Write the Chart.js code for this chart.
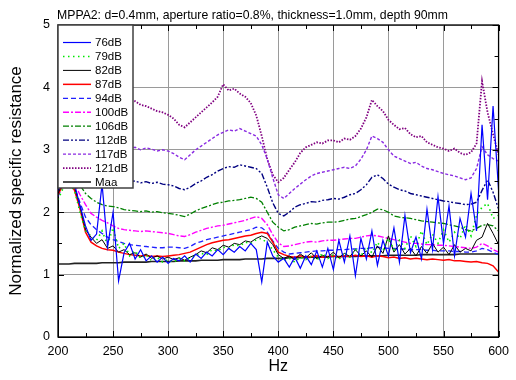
<!DOCTYPE html>
<html>
<head>
<meta charset="utf-8">
<script src="https://cdn.jsdelivr.net/npm/chart.js@4.4.1/dist/chart.umd.min.js"></script>
<style>
  html, body { margin: 0; padding: 0; background: #fff; }
</style>
</head>
<body>
<canvas id="chart" width="516" height="380"></canvas>
<script>
// Frequency (Hz), one sample every 5 Hz
const freqHz = [
  200, 205, 210, 215, 220, 225, 230, 235, 240, 245,
  250, 255, 260, 265, 270, 275, 280, 285, 290, 295,
  300, 305, 310, 315, 320, 325, 330, 335, 340, 345,
  350, 355, 360, 365, 370, 375, 380, 385, 390, 395,
  400, 405, 410, 415, 420, 425, 430, 435, 440, 445,
  450, 455, 460, 465, 470, 475, 480, 485, 490, 495,
  500, 505, 510, 515, 520, 525, 530, 535, 540, 545,
  550, 555, 560, 565, 570, 575, 580, 585, 590, 595,
  600
];

const seriesNames = ["76dB", "79dB", "82dB", "87dB", "94dB", "100dB", "106dB", "112dB", "117dB", "121dB", "Maa"];

// Normalized specific resistance
const db76 = [
  2.35, 2.55, 2.60, 2.45, 2.10, 1.78, 1.55, 1.65, 2.45, 1.45,
  2.00, 0.90, 1.35, 1.50, 1.25, 1.40, 1.22, 1.30, 1.20, 1.28,
  1.18, 1.26, 1.22, 1.30, 1.20, 1.33, 1.26, 1.36, 1.30, 1.40,
  1.32, 1.42, 1.36, 1.45, 1.38, 1.50, 1.40, 0.88, 1.52, 1.30,
  1.20, 1.26, 1.12, 1.28, 1.10, 1.30, 1.16, 1.38, 1.12, 1.42,
  1.08, 1.55, 1.20, 1.62, 0.98, 1.58, 1.25, 1.70, 1.15, 1.55,
  1.30, 1.75, 1.20, 1.95, 1.35, 1.60, 1.25, 2.05, 1.40, 2.25,
  1.50, 2.10, 1.30, 1.90, 1.60, 2.30, 1.70, 3.40, 2.20, 3.70,
  2.35
];
const db79 = [
  2.20, 2.40, 2.45, 2.35, 2.00, 1.70, 1.62, 1.55, 1.70, 1.48,
  1.75, 1.42, 1.50, 1.30, 1.38, 1.26, 1.32, 1.22, 1.28, 1.20,
  1.24, 1.20, 1.26, 1.22, 1.27, 1.30, 1.34, 1.32, 1.40, 1.38,
  1.44, 1.42, 1.48, 1.46, 1.52, 1.50, 1.56, 1.58, 1.50, 1.40,
  1.28, 1.22, 1.26, 1.20, 1.28, 1.24, 1.30, 1.23, 1.34, 1.26,
  1.32, 1.24, 1.36, 1.28, 1.40, 1.30, 1.44, 1.35, 1.52, 1.38,
  1.58, 1.40, 1.55, 1.42, 1.62, 1.45, 1.70, 1.48, 1.65, 1.50,
  1.72, 1.52, 1.68, 1.58, 1.80, 1.62, 1.95, 2.08, 2.14, 1.90,
  1.95
];
const db82 = [
  2.30, 2.50, 2.52, 2.40, 2.10, 1.72, 1.60, 1.50, 1.56, 1.42,
  1.46, 1.36, 1.40, 1.32, 1.35, 1.28, 1.33, 1.26, 1.30, 1.25,
  1.28, 1.24, 1.27, 1.23, 1.28, 1.32, 1.38, 1.35, 1.43, 1.40,
  1.47, 1.44, 1.50, 1.48, 1.54, 1.52, 1.58, 1.62, 1.58, 1.48,
  1.32, 1.26, 1.30, 1.24, 1.33, 1.27, 1.35, 1.25, 1.31, 1.28,
  1.36, 1.27, 1.34, 1.29, 1.40, 1.30, 1.38, 1.28, 1.46, 1.34,
  1.62, 1.36, 1.48, 1.33, 1.42, 1.30, 1.45, 1.34, 1.50, 1.36,
  1.44, 1.32, 1.48, 1.36, 1.42, 1.38, 1.55, 1.60, 1.82, 1.66,
  1.48
];
const db87 = [
  2.28, 2.45, 2.50, 2.35, 2.05, 1.68, 1.52, 1.46, 1.42, 1.40,
  1.39, 1.36, 1.34, 1.32, 1.31, 1.30, 1.31, 1.29, 1.30, 1.29,
  1.30, 1.31, 1.32, 1.34, 1.36, 1.40, 1.44, 1.48, 1.51, 1.53,
  1.55, 1.56, 1.58, 1.60, 1.62, 1.63, 1.66, 1.68, 1.66, 1.52,
  1.36, 1.32, 1.29, 1.28, 1.30, 1.28, 1.29, 1.30, 1.28, 1.29,
  1.30, 1.28, 1.30, 1.29, 1.31, 1.29, 1.30, 1.28, 1.30, 1.29,
  1.27, 1.28, 1.26, 1.27, 1.25, 1.26, 1.25, 1.24, 1.25, 1.24,
  1.23, 1.24, 1.22, 1.22, 1.21, 1.20, 1.21, 1.19, 1.18, 1.14,
  1.04
];
const db94 = [
  2.25, 2.45, 2.50, 2.40, 2.15, 1.92, 1.80, 1.72, 1.66, 1.60,
  1.56, 1.53, 1.50, 1.48, 1.47, 1.46, 1.45, 1.44, 1.43, 1.43,
  1.44, 1.44, 1.43, 1.42, 1.45, 1.50, 1.53, 1.56, 1.58, 1.60,
  1.62, 1.64, 1.66, 1.68, 1.70, 1.72, 1.76, 1.75, 1.68, 1.54,
  1.42, 1.36, 1.33, 1.34, 1.35, 1.36, 1.37, 1.38, 1.38, 1.39,
  1.39, 1.40, 1.40, 1.41, 1.41, 1.42, 1.42, 1.43, 1.44, 1.43,
  1.42, 1.42, 1.41, 1.41, 1.40, 1.40, 1.40, 1.39, 1.39, 1.38,
  1.38, 1.38, 1.37, 1.37, 1.36, 1.36, 1.38, 1.42, 1.40, 1.36,
  1.32
];
const db100 = [
  2.30, 2.50, 2.55, 2.45, 2.28, 2.12, 1.98, 1.92, 1.87, 1.83,
  1.78, 1.74, 1.72, 1.71, 1.70, 1.69, 1.70, 1.69, 1.68, 1.67,
  1.66, 1.64, 1.62, 1.61, 1.64, 1.68, 1.71, 1.74, 1.76, 1.78,
  1.79, 1.81, 1.83, 1.85, 1.87, 1.90, 1.93, 1.90, 1.80, 1.64,
  1.51, 1.45, 1.46, 1.48, 1.50, 1.52, 1.53, 1.52, 1.54, 1.55,
  1.55, 1.56, 1.57, 1.58, 1.58, 1.60, 1.62, 1.63, 1.62, 1.60,
  1.58, 1.56, 1.54, 1.52, 1.50, 1.50, 1.49, 1.48, 1.48, 1.47,
  1.47, 1.46, 1.45, 1.44, 1.43, 1.42, 1.44, 1.50, 1.46, 1.40,
  1.36
];
const db106 = [
  2.35, 2.55, 2.60, 2.52, 2.43, 2.30, 2.22, 2.16, 2.12, 2.10,
  2.09, 2.07, 2.04, 2.03, 2.02, 2.01, 2.02, 2.00, 2.01, 1.99,
  1.98, 1.97, 1.95, 1.93, 1.97, 2.02, 2.06, 2.09, 2.12, 2.15,
  2.16, 2.18, 2.19, 2.20, 2.22, 2.24, 2.22, 2.16, 2.00, 1.84,
  1.76, 1.70, 1.72, 1.76, 1.78, 1.80, 1.82, 1.81, 1.83, 1.84,
  1.84, 1.85, 1.87, 1.89, 1.90, 1.93, 1.96, 2.00, 2.05, 2.04,
  2.00, 1.94, 1.92, 1.91, 1.90, 1.88, 1.86, 1.85, 1.84, 1.83,
  1.82, 1.80, 1.78, 1.76, 1.72, 1.70, 1.74, 1.79, 1.80, 1.78,
  1.70
];
const db112 = [
  2.45, 2.60, 2.65, 2.62, 2.58, 2.55, 2.52, 2.54, 2.50, 2.52,
  2.50, 2.48, 2.51, 2.49, 2.50, 2.47, 2.49, 2.46, 2.48, 2.45,
  2.44, 2.42, 2.38, 2.36, 2.40, 2.46, 2.50, 2.56, 2.60, 2.66,
  2.70, 2.73, 2.72, 2.76, 2.74, 2.72, 2.70, 2.62, 2.40, 2.15,
  1.98, 1.94, 2.00, 2.08, 2.12, 2.14, 2.17, 2.16, 2.19, 2.20,
  2.22, 2.21, 2.24, 2.28, 2.30, 2.36, 2.44, 2.56, 2.60, 2.54,
  2.45, 2.40, 2.36, 2.34, 2.30, 2.28, 2.26, 2.24, 2.22, 2.20,
  2.18, 2.17, 2.15, 2.14, 2.12, 2.13, 2.16, 2.35, 2.52, 2.32,
  2.05
];
const db117 = [
  2.70, 2.90, 3.00, 3.05, 3.08, 3.10, 3.06, 3.08, 3.05, 3.07,
  3.05, 3.03, 3.06, 3.02, 3.04, 3.00, 3.03, 3.01, 2.98, 3.00,
  2.98, 2.94, 2.88, 2.84, 2.92, 3.00, 3.06, 3.12, 3.18, 3.24,
  3.28, 3.32, 3.30, 3.34, 3.30, 3.26, 3.22, 3.08, 2.85, 2.55,
  2.28, 2.22, 2.30, 2.38, 2.45, 2.52, 2.58, 2.62, 2.64, 2.66,
  2.68, 2.70, 2.72, 2.70, 2.74, 2.85, 3.00, 3.22, 3.18, 3.12,
  3.00, 2.90, 2.86, 2.82, 2.78, 2.80, 2.74, 2.70, 2.68, 2.65,
  2.62, 2.60, 2.58, 2.55, 2.52, 2.55, 2.70, 3.05, 2.92, 2.86,
  2.82
];
const db121 = [
  3.30, 3.55, 3.70, 3.78, 3.82, 3.85, 3.83, 3.86, 3.80, 3.84,
  3.82, 3.78, 3.80, 3.76, 3.78, 3.72, 3.70, 3.66, 3.62, 3.60,
  3.56, 3.50, 3.40, 3.36, 3.44, 3.52, 3.60, 3.68, 3.76, 3.85,
  4.05, 3.95, 3.98, 3.90, 3.85, 3.75, 3.55, 3.22, 2.85, 2.60,
  2.48, 2.55, 2.68, 2.80, 2.95, 3.04, 3.08, 3.12, 3.10, 3.15,
  3.15, 3.12, 3.18, 3.16, 3.22, 3.34, 3.52, 3.80, 3.70, 3.62,
  3.48, 3.40, 3.33, 3.35, 3.25, 3.20, 3.22, 3.12, 3.08, 3.04,
  3.02, 2.98, 3.02, 2.95, 2.92, 2.96, 3.10, 4.10, 3.60, 3.25,
  2.92
];
const maa = [
  1.17, 1.17, 1.17, 1.18, 1.18, 1.18, 1.18, 1.18, 1.19, 1.19,
  1.19, 1.19, 1.20, 1.20, 1.20, 1.20, 1.20, 1.21, 1.21, 1.21,
  1.21, 1.21, 1.22, 1.22, 1.22, 1.22, 1.23, 1.23, 1.23, 1.23,
  1.24, 1.24, 1.24, 1.24, 1.25, 1.25, 1.25, 1.25, 1.26, 1.26,
  1.26, 1.26, 1.27, 1.27, 1.27, 1.27, 1.28, 1.28, 1.28, 1.28,
  1.29, 1.29, 1.29, 1.29, 1.29, 1.30, 1.30, 1.30, 1.30, 1.30,
  1.31, 1.31, 1.31, 1.31, 1.31, 1.31, 1.32, 1.32, 1.32, 1.32,
  1.32, 1.32, 1.32, 1.33, 1.33, 1.33, 1.33, 1.33, 1.33, 1.33,
  1.33
];

const xTickLabels = [200, 250, 300, 350, 400, 450, 500, 550, 600];
const yTickLabels = [0, 1, 2, 3, 4, 5];

const allSeries = [db76, db79, db82, db87, db94, db100, db106, db112, db117, db121, maa];

// line styles, same order as seriesNames
const styles = [
  { color: "#0000ff", width: 1.2, dash: [] },
  { color: "#00e800", width: 1.6, dash: [1.5, 3.5] },
  { color: "#000000", width: 1, dash: [] },
  { color: "#ff0000", width: 1.5, dash: [] },
  { color: "#2020ff", width: 1.3, dash: [5, 3] },
  { color: "#ff00ff", width: 1.4, dash: [6, 2, 2, 2] },
  { color: "#008000", width: 1.3, dash: [6, 2, 2, 2] },
  { color: "#000080", width: 1.4, dash: [6, 2, 2, 2, 2, 2] },
  { color: "#8a2be2", width: 1.4, dash: [3, 2] },
  { color: "#800080", width: 1.8, dash: [1.5, 1.5] },
  { color: "#222222", width: 1.6, dash: [] }
];

const FONT = '"Liberation Sans", Arial, sans-serif';
Chart.defaults.font.family = FONT;
Chart.defaults.color = "#000";

const datasets = seriesNames.map((name, i) => ({
  label: name,
  data: freqHz.map((f, j) => ({ x: f, y: allSeries[i][j] })),
  borderColor: styles[i].color,
  borderWidth: styles[i].width,
  borderDash: styles[i].dash,
  pointRadius: 0,
  tension: 0,
  fill: false
}));

// frame, inward ticks, boxed legend and title
const decorations = {
  id: "decorations",
  afterDatasetsDraw(chart) {
    const ctx = chart.ctx;
    const a = chart.chartArea;
    const xs = chart.scales.x, ys = chart.scales.y;
    ctx.save();
    ctx.strokeStyle = "#000";
    ctx.lineWidth = 1;
    ctx.setLineDash([]);
    ctx.beginPath();
    for (let v = 200; v <= 600; v += 25) {
      const px = Math.round(xs.getPixelForValue(v)) + 0.5;
      const len = v % 50 === 0 ? 6 : 4;
      ctx.moveTo(px, a.bottom); ctx.lineTo(px, a.bottom - len);
      ctx.moveTo(px, a.top); ctx.lineTo(px, a.top + len);
    }
    for (let v = 0; v <= 5; v += 0.5) {
      const py = Math.round(ys.getPixelForValue(v)) + 0.5;
      const len = v % 1 === 0 ? 6 : 4;
      ctx.moveTo(a.left, py); ctx.lineTo(a.left + len, py);
      ctx.moveTo(a.right, py); ctx.lineTo(a.right - len, py);
    }
    ctx.stroke();
    ctx.lineWidth = 1.3;
    ctx.strokeRect(a.left, a.top, a.right - a.left, a.bottom - a.top);

    // legend box
    const lx = a.left, ly = a.top, lw = 75, lh = 163;
    ctx.fillStyle = "#fff";
    ctx.fillRect(lx, ly, lw, lh);
    ctx.strokeStyle = "#404040";
    ctx.lineWidth = 1.5;
    ctx.strokeRect(lx, ly, lw, lh);
    ctx.font = "11.5px " + FONT;
    ctx.textBaseline = "middle";
    chart.data.datasets.forEach((ds, i) => {
      const y = ly + 17.5 + i * 13.95;
      ctx.beginPath();
      ctx.setLineDash(ds.borderDash);
      ctx.strokeStyle = ds.borderColor;
      ctx.lineWidth = ds.borderWidth;
      ctx.moveTo(lx + 5, y);
      ctx.lineTo(lx + 33, y);
      ctx.stroke();
      ctx.setLineDash([]);
      ctx.fillStyle = "#000";
      ctx.fillText(ds.label, lx + 37, y + 0.5);
    });

    ctx.font = "12.25px " + FONT;
    ctx.textBaseline = "alphabetic";
    ctx.fillStyle = "#000";
    ctx.fillText("MPPA2: d=0.4mm, aperture ratio=0.8%, thickness=1.0mm, depth 90mm", a.left - 1, 19);
    ctx.restore();
  }
};

new Chart(document.getElementById("chart"), {
  type: "line",
  data: { datasets },
  options: {
    responsive: false,
    animation: false,
    devicePixelRatio: 1,
    layout: { padding: { top: 25, right: 10, left: 0, bottom: 0 } },
    plugins: { legend: { display: false }, tooltip: { enabled: false } },
    scales: {
      x: {
        type: "linear",
        min: 200,
        max: 600,
        afterBuildTicks: s => { s.ticks = xTickLabels.map(v => ({ value: v })); },
        afterFit: s => { s.height = 43; },
        ticks: { font: { size: 12.5 }, padding: 7, maxRotation: 0, color: "#000" },
        grid: { color: "#9a9a9a", drawTicks: false },
        border: { color: "#000", width: 1 },
        title: { display: true, text: "Hz", font: { size: 16 }, color: "#000", padding: { top: 0, bottom: 4 } }
      },
      y: {
        type: "linear",
        min: 0,
        max: 5,
        afterBuildTicks: s => { s.ticks = yTickLabels.map(v => ({ value: v })); },
        afterFit: s => { s.width = 58; },
        ticks: { font: { size: 12.5 }, padding: 8, color: "#000" },
        grid: { color: "#9a9a9a", drawTicks: false },
        border: { color: "#000", width: 1 },
        title: { display: true, text: "Normalized specific resistance", font: { size: 17 }, color: "#000", padding: { top: 6, bottom: 0 } }
      }
    }
  },
  plugins: [decorations]
});
</script>
</body>
</html>
